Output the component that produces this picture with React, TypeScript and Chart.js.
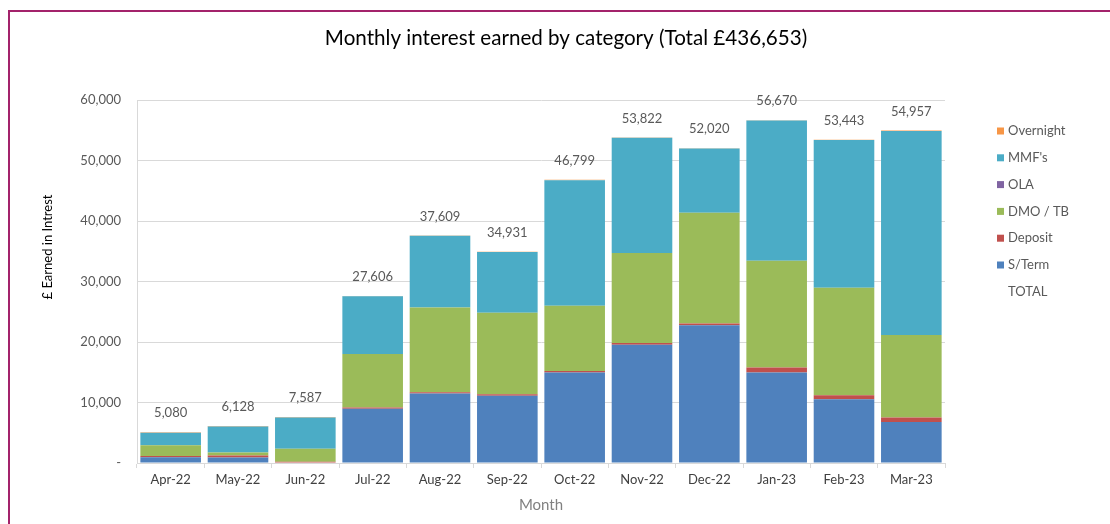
import React, { useEffect, useRef } from "react";
import { Chart, registerables } from "chart.js";

Chart.register(...registerables);

const months = ["Apr-22", "May-22", "Jun-22", "Jul-22", "Aug-22", "Sep-22", "Oct-22", "Nov-22", "Dec-22", "Jan-23", "Feb-23", "Mar-23"];
const sTerm = [950, 900, 0, 8950, 11480, 11100, 14950, 19560, 22750, 14950, 10550, 6760];
const deposit = [220, 330, 200, 220, 220, 270, 270, 270, 320, 820, 660, 770];
const dmoTb = [1750, 520, 2160, 8850, 14010, 13460, 10770, 14900, 18300, 17640, 17750, 13630];
const ola = [0, 0, 0, 0, 0, 0, 0, 0, 0, 0, 0, 0];
const mmfs = [2080, 4298, 5147, 9526, 11849, 10051, 20759, 19042, 10600, 23210, 24433, 33697];
const overnight = [80, 80, 80, 60, 50, 50, 50, 50, 50, 50, 50, 100];
const totals = [5080, 6128, 7587, 27606, 37609, 34931, 46799, 53822, 52020, 56670, 53443, 54957];
const yTicks = [0, 10000, 20000, 30000, 40000, 50000, 60000];

const TITLE = "Monthly interest earned by category (Total £436,653)";
const FONT = "Lato, 'Open Sans', sans-serif";

const fmt = (v: number) => (v === 0 ? "-" : v.toLocaleString("en-GB"));

export default function App() {
  const ref = useRef<HTMLCanvasElement | null>(null);

  useEffect(() => {
    if (!ref.current) return;
    const extras = {
      id: "extras",
      afterDatasetsDraw(chart: any) {
        const { ctx } = chart;
        const xs = chart.scales.x;
        const ys = chart.scales.y;
        ctx.save();
        // title
        ctx.font = `20.6px ${FONT}`;
        ctx.fillStyle = "#000000";
        ctx.textAlign = "center";
        ctx.textBaseline = "middle";
        ctx.fillText(TITLE, 555, 26);
        // total labels
        ctx.font = `13px ${FONT}`;
        ctx.fillStyle = "#595959";
        totals.forEach((t, i) => {
          ctx.fillText(t.toLocaleString("en-GB"), xs.getPixelForValue(i), ys.getPixelForValue(t) - 19);
        });
        // y axis title
        ctx.save();
        ctx.translate(37, 235);
        ctx.rotate(-Math.PI / 2);
        ctx.font = `13px ${FONT}`;
        ctx.fillStyle = "#000000";
        ctx.fillText("£ Earned in Intrest", 0, 0);
        ctx.restore();
        // legend
        const items = [
          { label: "Overnight", color: "#F79646" },
          { label: "MMF's", color: "#4BACC6" },
          { label: "OLA", color: "#8064A2" },
          { label: "DMO / TB", color: "#9BBB59" },
          { label: "Deposit", color: "#C0504D" },
          { label: "S/Term", color: "#4F81BD" },
          { label: "TOTAL", color: null as string | null },
        ];
        ctx.font = `13px ${FONT}`;
        ctx.textAlign = "left";
        ctx.textBaseline = "middle";
        items.forEach((it, k) => {
          const cy = 119 + k * 26.8;
          if (it.color) {
            ctx.fillStyle = it.color;
            ctx.fillRect(986, cy - 3.5, 7, 7);
          }
          ctx.fillStyle = "#595959";
          ctx.fillText(it.label, 997, cy);
        });
        ctx.restore();
      },
    };

    const mk = (label: string, data: number[], color: string) => ({
      type: "bar" as const,
      label,
      data,
      backgroundColor: color,
      borderWidth: 0,
      stack: "main",
      barPercentage: 0.9,
      categoryPercentage: 1.0,
    });

    const chart = new Chart(ref.current, {
      type: "bar",
      data: {
        labels: months,
        datasets: [
          mk("S/Term", sTerm, "#4F81BD"),
          mk("Deposit", deposit, "#C0504D"),
          mk("DMO / TB", dmoTb, "#9BBB59"),
          mk("OLA", ola, "#8064A2"),
          mk("MMF's", mmfs, "#4BACC6"),
          mk("Overnight", overnight, "#F79646"),
          {
            type: "line" as const,
            label: "TOTAL",
            data: totals,
            showLine: false,
            pointRadius: 0,
            borderColor: "rgba(0,0,0,0)",
            backgroundColor: "rgba(0,0,0,0)",
            stack: "total",
          } as any,
        ],
      },
      options: {
        responsive: false,
        animation: false,
        maintainAspectRatio: false,
        layout: { padding: { left: 0, right: 176, top: 88, bottom: 0 } },
        plugins: {
          legend: { display: false },
          tooltip: { enabled: false },
          title: { display: false },
        },
        scales: {
          x: {
            stacked: true,
            offset: true,
            grid: { display: true, drawOnChartArea: false, drawTicks: true, tickLength: 5, color: "#d9d9d9", offset: true },
            border: { display: true, color: "#d9d9d9" },
            ticks: { color: "#404040", font: { family: FONT, size: 13 }, padding: 4, maxRotation: 0, autoSkip: false },
            title: { display: true, text: "Month", color: "#808080", font: { family: FONT, size: 15 }, padding: { top: 0, bottom: 10 } },
            afterFit: (s: any) => { s.height = 61; },
          },
          y: {
            stacked: true,
            min: 0,
            max: 60000,
            afterBuildTicks: (s: any) => { s.ticks = yTicks.map((v) => ({ value: v })); },
            grid: { color: "#d9d9d9", drawTicks: false },
            border: { display: true, color: "#d9d9d9" },
            ticks: { color: "#595959", font: { family: FONT, size: 13 }, padding: 16, callback: (v: any) => fmt(Number(v)) },
            afterFit: (s: any) => { s.width = 126; },
          },
        },
      },
      plugins: [extras],
    } as any);
    return () => chart.destroy();
  }, []);

  return (
    <div style={{ position: "fixed", left: 0, top: 0, width: 1110, height: 524, overflow: "hidden", background: "#fff" }}>
      <div style={{ position: "absolute", left: 8, top: 10, width: 1200, height: 700, border: "2px solid #A3236B", boxSizing: "border-box" }} />
      <canvas ref={ref} width={1110} height={512} style={{ position: "absolute", left: 11, top: 12, width: 1110, height: 512 }} />
    </div>
  );
}
